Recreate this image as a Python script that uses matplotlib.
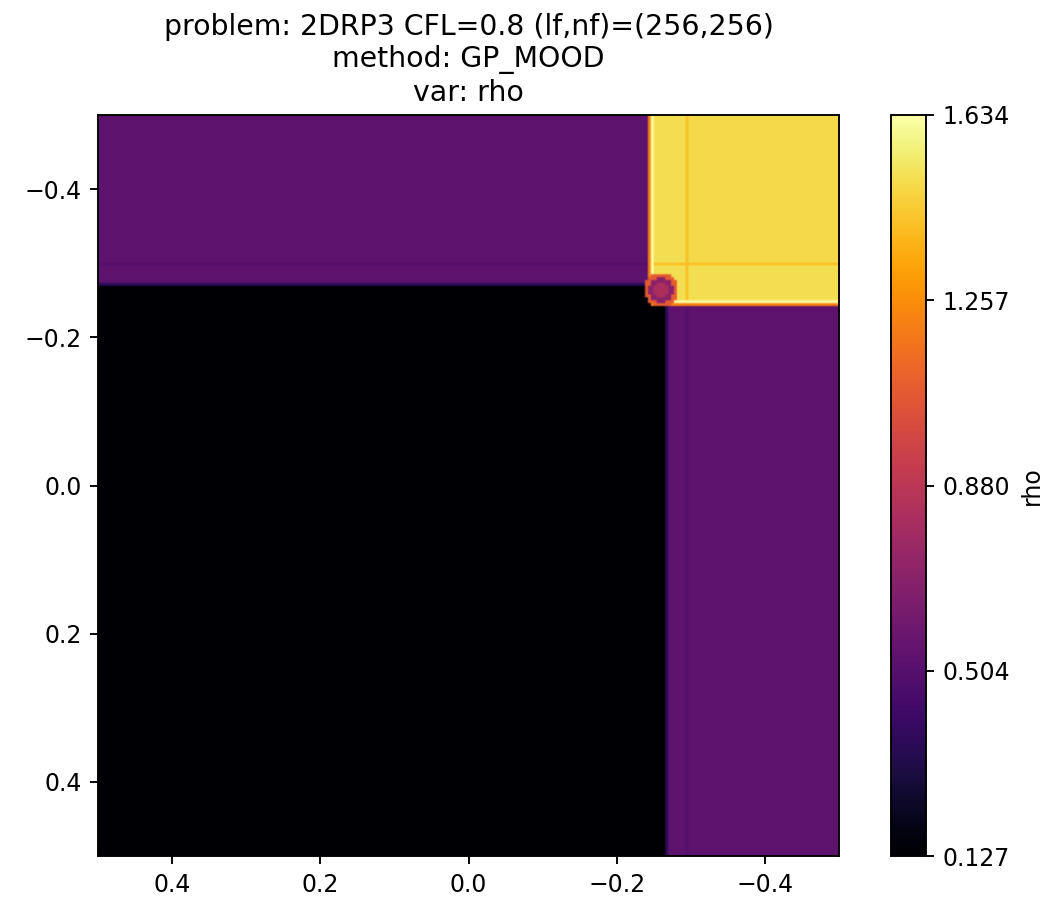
import numpy as np
import matplotlib.pyplot as plt

n = 256  # cells per direction

# densities of the four quadrants
rho_tr = 1.49   # top right (yellow)
rho_tl = 0.532  # top left
rho_bl = 0.138  # bottom left
rho_br = 0.532  # bottom right
rho_min, rho_max = 0.1268, 1.6338

# wave positions (data coords)
x_shock, y_shock = -0.248, -0.247
x_contact, y_contact = -0.264, -0.270
x_inner, y_inner = -0.295, -0.298

# thin structures
rim_rho = 1.22        # orange rim just outside the shock
edge_rho = rho_max    # overshoot just inside the shock
band_rho = 1.51       # slightly brighter band behind the shock
inner_rho_hi = 1.42   # faint line inside yellow
inner_rho_lo = 0.50   # faint line inside purple
contact_rho = 0.36    # dark edge at contacts

# corner blob
blob_x, blob_y = -0.260, -0.264
blob_r = [0.0, 0.010, 0.017, 0.023]
blob_rho = [0.82, 0.70, 1.08]

w = 1.0 / n
xs = 0.5 - (np.arange(n) + 0.5) / n
ys = -0.5 + (np.arange(n) + 0.5) / n
X, Y = np.meshgrid(xs, ys)

rho = np.full((n, n), rho_bl)
rho[(Y < y_contact) & (X >= x_shock)] = rho_tl
rho[(X < x_contact) & (Y >= y_shock)] = rho_br
yellow = (X < x_shock) & (Y < y_shock)
rho[yellow] = rho_tr

# band and inner lines
rho[yellow & ((X > x_inner) | (Y > y_inner))] = band_rho
rho[yellow & (np.abs(X - x_inner) < w / 2)] = inner_rho_hi
rho[yellow & (np.abs(Y - y_inner) < w / 2)] = inner_rho_hi
rho[(Y < y_contact) & (X >= x_shock) & (np.abs(Y - y_inner) < w / 2)] = inner_rho_lo
rho[(X < x_contact) & (Y >= y_shock) & (np.abs(X - x_inner) < w / 2)] = inner_rho_lo

# overshoot inside the shock
rho[yellow & (X >= x_shock - w)] = edge_rho
rho[yellow & (Y >= y_shock - w)] = edge_rho
# orange rim outside
rho[(X >= x_shock) & (X < x_shock + w) & (Y < y_shock)] = rim_rho
rho[(Y >= y_shock) & (Y < y_shock + w) & (X < x_shock)] = rim_rho

# dark contact edges
rho[(Y < y_contact) & (Y >= y_contact - w) & (X >= x_shock + w)] = contact_rho
rho[(X < x_contact) & (X >= x_contact - w) & (Y >= y_shock + w)] = contact_rho

# blob at the corner
R = np.hypot(X - blob_x, Y - blob_y)
k = np.digitize(R, blob_r) - 1
for i, v in enumerate(blob_rho):
    rho[k == i] = v

fig = plt.figure(figsize=(1064 / 170, 904 / 170), dpi=170)
ax = fig.add_axes([97 / 1064, 48 / 904, 743 / 1064, 741 / 904])
cax = fig.add_axes([891 / 1064, 48 / 904, 35 / 1064, 741 / 904])

im = ax.imshow(rho, cmap='inferno', vmin=rho_min, vmax=rho_max,
               extent=[0.5, -0.5, 0.5, -0.5])
ax.set_xticks([0.4, 0.2, 0.0, -0.2, -0.4])
ax.set_yticks([-0.4, -0.2, 0.0, 0.2, 0.4])
ax.set_title('problem: 2DRP3 CFL=0.8 (lf,nf)=(256,256)\nmethod: GP_MOOD\nvar: rho')

cb = fig.colorbar(im, cax=cax, ticks=np.linspace(rho_min, rho_max, 5), format='%.3f')
cb.set_label('rho')

fig.savefig('out.png', dpi=170)
